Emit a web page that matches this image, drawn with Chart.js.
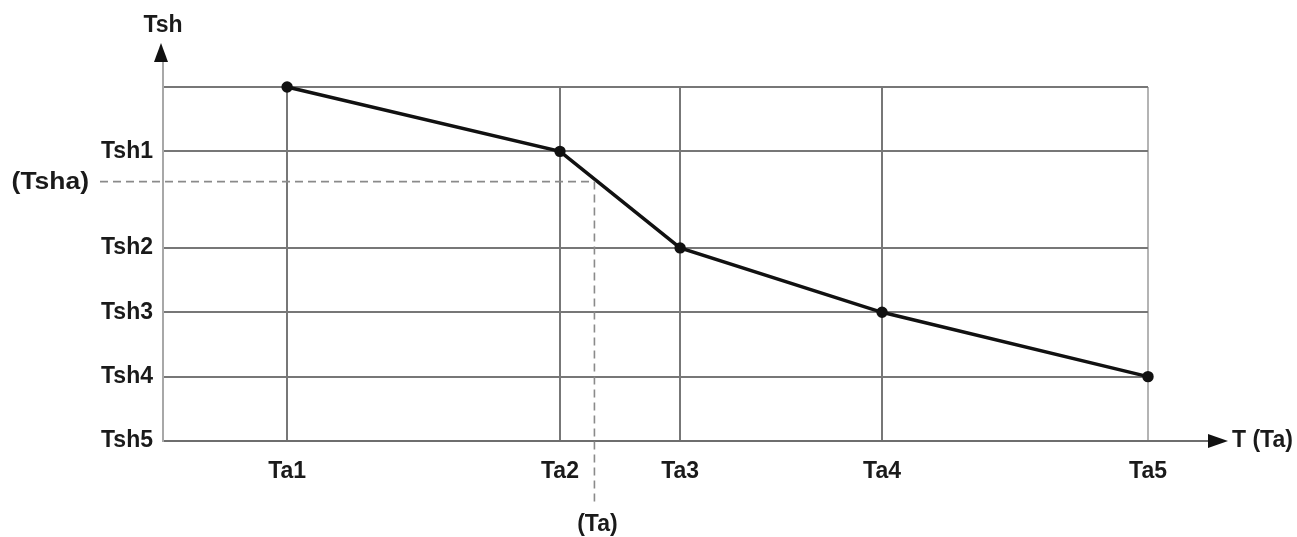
<!DOCTYPE html>
<html>
<head>
<meta charset="utf-8">
<script src="https://cdn.jsdelivr.net/npm/chart.js@4/dist/chart.umd.min.js"></script>
<style>
html,body{margin:0;padding:0;background:#fff;}
#wrap{width:1297px;height:537px;position:relative;}
</style>
</head>
<body>
<div id="wrap"><canvas id="c" width="1297" height="537"></canvas></div>
<script>
// Category positions on the T (Ta) axis and their labels
const taLabels = ['Ta1', 'Ta2', 'Ta3', 'Ta4', 'Ta5'];
const taValues = [1.26, 4.03, 5.25, 7.3, 10];
// Tsh axis ticks and labels
const tshLabels = ['Tsh5', 'Tsh4', 'Tsh3', 'Tsh2', 'Tsh1', ''];
const tshValues = [0, 1, 2, 3, 4.5, 5.5];
// Curve values (Tsh at each Ta)
const curveValues = [5.5, 4.5, 3, 2, 1];
// Interpolated operating point (Ta), (Tsha)
const opTa = 4.38;
const opTsha = 4.03;

const FAMILY = '"Liberation Sans", Arial, sans-serif';
const FONT = 'bold 23px ' + FAMILY;

const overlay = {
  id: 'overlay',
  afterDatasetsDraw(chart) {
    const ctx = chart.ctx;
    const xs = chart.scales.x, ys = chart.scales.y;
    const ca = chart.chartArea;
    const px = xs.getPixelForValue(opTa);
    const py = ys.getPixelForValue(opTsha);
    ctx.save();
    // dashed guide lines
    ctx.strokeStyle = '#8a8a8a';
    ctx.lineWidth = 1.6;
    ctx.setLineDash([8, 5]);
    ctx.beginPath();
    ctx.moveTo(100, py); ctx.lineTo(px, py);
    ctx.moveTo(px, py); ctx.lineTo(px, 502);
    ctx.stroke();
    ctx.setLineDash([]);
    // axis extensions
    ctx.strokeStyle = '#6e6e6e';
    ctx.lineWidth = 2;
    ctx.beginPath();
    ctx.moveTo(ca.right, ca.bottom); ctx.lineTo(1210, ca.bottom);
    ctx.stroke();
    ctx.strokeStyle = '#a8a8a8';
    ctx.beginPath();
    ctx.moveTo(ca.left, ca.top); ctx.lineTo(ca.left, 60);
    ctx.stroke();
    // arrows
    ctx.fillStyle = '#111';
    ctx.beginPath();
    ctx.moveTo(1228, ca.bottom); ctx.lineTo(1208, ca.bottom - 7); ctx.lineTo(1208, ca.bottom + 7); ctx.closePath();
    ctx.fill();
    ctx.beginPath();
    ctx.moveTo(ca.left - 2, 43); ctx.lineTo(ca.left - 9, 62); ctx.lineTo(ca.left + 5, 62); ctx.closePath();
    ctx.fill();
    // texts
    ctx.font = FONT;
    ctx.fillStyle = '#1a1a1a';
    ctx.textBaseline = 'middle';
    ctx.textAlign = 'center';
    ctx.fillText('Tsh', ca.left, 26);
    ctx.fillText('(Ta)', px + 3, 525);
    ctx.textAlign = 'left';
    ctx.fillText('T (Ta)', 1232, ca.bottom);
    // (Tsha) label, slightly wider as in the reference
    ctx.save();
    ctx.translate(89, py + 1);
    ctx.scale(1.15, 1);
    ctx.textAlign = 'right';
    ctx.fillText('(Tsha)', 0, 0);
    ctx.restore();
    ctx.restore();
  }
};

new Chart(document.getElementById('c'), {
  type: 'line',
  data: {
    datasets: [{
      data: taValues.map((x, i) => ({ x: x, y: curveValues[i] })),
      borderColor: '#111',
      backgroundColor: '#111',
      borderWidth: 3.4,
      pointRadius: 4,
      pointHoverRadius: 4,
      tension: 0,
      clip: false
    }]
  },
  options: {
    responsive: false,
    animation: false,
    events: [],
    layout: { padding: { left: 0, right: 149, top: 87, bottom: 0 } },
    plugins: { legend: { display: false }, tooltip: { enabled: false } },
    scales: {
      x: {
        type: 'linear',
        min: 0, max: 10,
        afterBuildTicks(s) { s.ticks = taValues.map(v => ({ value: v })); },
        afterFit(s) { s.height = 96; },
        ticks: {
          autoSkip: false, maxRotation: 0,
          padding: 17,
          color: '#1a1a1a',
          font: { family: FAMILY, size: 23, weight: 'bold' },
          callback: (v) => { const i = taValues.indexOf(v); return i >= 0 ? taLabels[i] : ''; }
        },
        grid: {
          drawTicks: false,
          lineWidth: 2,
          color: (c) => (c.tick && c.tick.value === 10) ? '#b4b4b4' : '#777'
        },
        border: { display: true, color: '#6e6e6e', width: 2 }
      },
      y: {
        type: 'linear',
        min: 0, max: 5.5,
        afterBuildTicks(s) { s.ticks = tshValues.map(v => ({ value: v })); },
        afterFit(s) { s.width = 163; },
        ticks: {
          autoSkip: false,
          padding: 10,
          color: '#1a1a1a',
          font: { family: FAMILY, size: 23, weight: 'bold' },
          callback: (v) => { const i = tshValues.indexOf(v); return i >= 0 ? tshLabels[i] : ''; }
        },
        grid: { drawTicks: false, lineWidth: 2, color: '#777' },
        border: { display: true, color: '#a8a8a8', width: 2 }
      }
    }
  },
  plugins: [overlay]
});
</script>
</body>
</html>
